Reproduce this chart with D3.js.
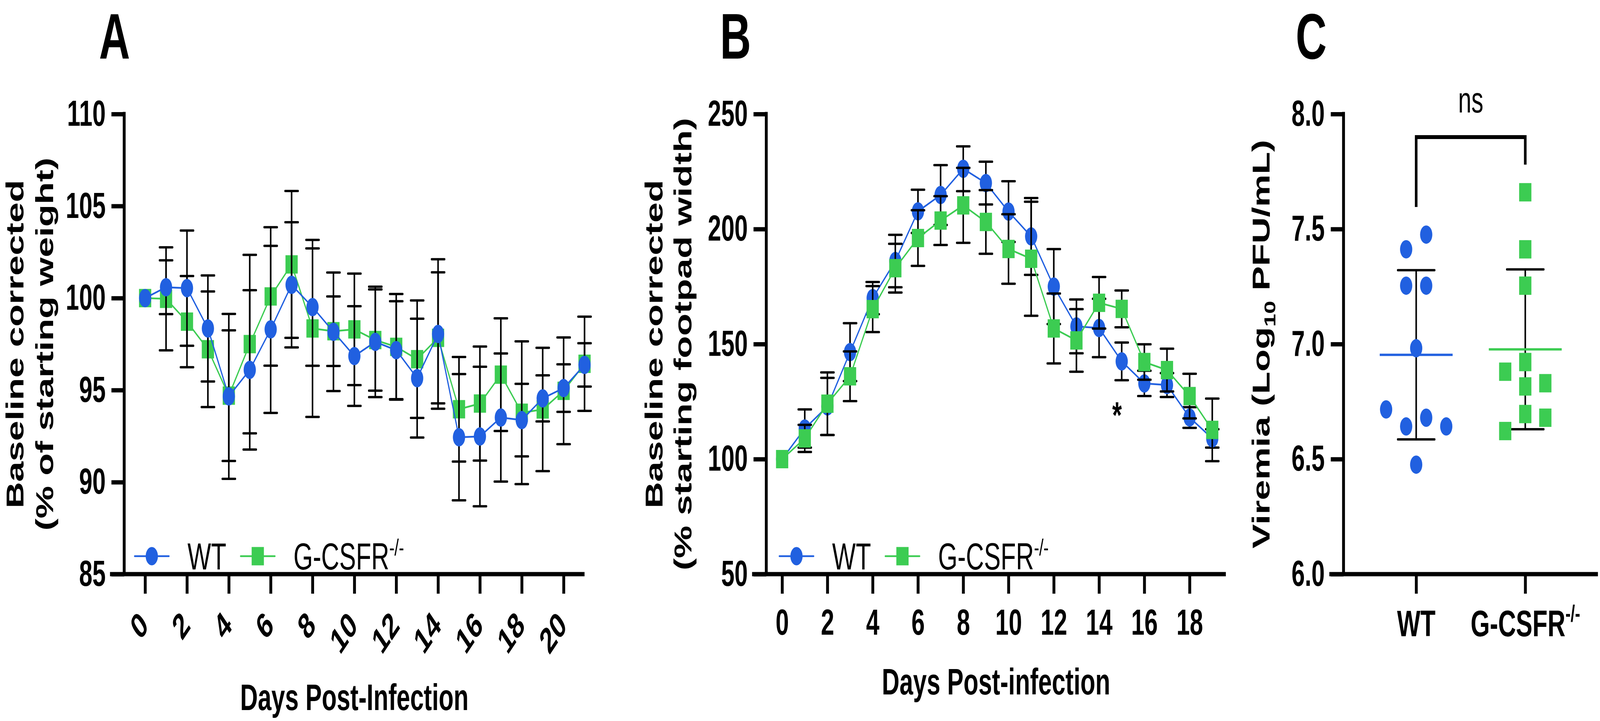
<!DOCTYPE html>
<html>
<head>
<meta charset="utf-8">
<script src="https://cdn.jsdelivr.net/npm/d3@7"></script>
<style>
  html, body { margin: 0; padding: 0; background: #fff; width: 100%; height: 100%; overflow: hidden; }
  svg { display: block; width: 100vw; height: 100vh; }
  text { font-family: "Liberation Sans", Arial, Helvetica, sans-serif; }
</style>
</head>
<body>
<div id="chart"></div>
<script>
// ---- data --------------------------------------------------------------

// Panel A: baseline corrected weight, days 0..21
const weightDays = d3.range(0, 22);
const weightWT   = [100, 100.59, 100.54, 98.35, 94.66, 96.1, 98.3, 100.72, 99.51, 98.17, 96.85,
                    97.62, 97.17, 95.65, 98.05, 92.44, 92.48, 93.51, 93.37, 94.55, 95.11, 96.37];
const weightWTsd = [0, 1.46, 3.13, 2.88, 4.48, 4.33, 4.54, 3.4, 3.19, 3.22, 2.71,
                    3.0, 2.66, 3.23, 4.06, 3.43, 3.79, 3.48, 1.97, 1.25, 1.29, 1.18];
const weightKO   = [100, 99.96, 98.72, 97.22, 94.7, 97.5, 100.09, 101.83, 98.35, 98.2, 98.3,
                    97.72, 97.35, 96.68, 97.84, 93.96, 94.27, 95.84, 93.77, 93.95, 94.96, 96.43];
const weightKOsd = [0, 2.8, 2.48, 3.14, 3.55, 4.85, 3.76, 3.99, 4.81, 1.89, 3.03,
                    2.75, 2.87, 3.19, 3.56, 2.84, 3.1, 3.06, 3.88, 3.35, 2.9, 2.56];

// Panel B: baseline corrected footpad width, days 0..19
const footDays   = d3.range(0, 20);
const footWT     = [100, 113.3, 122.9, 146.5, 170.0, 186.1, 207.7, 214.8, 226.2, 220.0,
                    207.6, 196.8, 175.0, 157.7, 157.0, 142.5, 132.9, 132.2, 118.1, 109.0];
const footWTsd   = [0, 8.3, 12.4, 12.6, 7.0, 11.4, 9.4, 13.0, 9.75, 9.3,
                    13.2, 16.7, 16.3, 11.7, 12.7, 8.2, 5.5, 5.2, 4.5, 4.0];
const footKO     = [100, 109.0, 124.1, 136.0, 165.2, 183.0, 196.1, 203.7, 210.3, 203.1,
                    191.35, 187.1, 156.8, 151.6, 167.95, 165.3, 142.2, 138.7, 127.4, 112.7];
const footKOsd   = [0, 5.9, 13.6, 10.8, 10.0, 10.6, 12.1, 10.6, 16.3, 13.85,
                    15.1, 24.8, 15.2, 13.6, 11.2, 8.0, 7.7, 9.3, 9.7, 13.6];
const footStars  = [{ day: 15, label: "*" }];

// Panel C: viremia, individual animals (Log10 PFU/mL)
const viremiaGroups = ["WT", "G-CSFR"];
const viremiaWT = [7.412, 7.476, 7.254, 7.254, 6.982, 6.716, 6.642, 6.68, 6.642, 6.476];
const viremiaKO = [7.66, 7.412, 7.254, 6.88, 6.922, 6.83, 6.816, 6.622, 6.696, 6.68];
const viremiaTest = "ns";

// ---- look --------------------------------------------------------------

const width = 6145, height = 1846;
const TOP = 292, BOTTOM = 1470;
const AXIS_W = 11, TICK = 49;
const BLUE = "#2160e0", GREEN = "#3ccc52";
const KO_LABEL = "G-CSFR", KO_SUP = "-/-";

// the window is narrower than the figure, so the drawing is fitted to it
const svg = d3.select("#chart").append("svg")
    .attr("viewBox", [0, 0, width, height])
    .attr("preserveAspectRatio", "none");

svg.append("rect").attr("width", width).attr("height", height).attr("fill", "#fff");

function marker(sel, shape, color, r) {
    if (shape === "circle") {
        sel.append("circle").attr("r", r).attr("fill", color);
    } else {
        sel.append("rect").attr("x", -r).attr("y", -r).attr("width", 2 * r).attr("height", 2 * r).attr("fill", color);
    }
}

function styleAxis(ax, fontSize) {
    ax.select(".domain").remove();
    ax.selectAll(".tick line").attr("stroke", "#000").attr("stroke-width", AXIS_W);
    ax.selectAll(".tick text")
        .attr("fill", "#000")
        .attr("font-size", fontSize)
        .attr("font-weight", "bold")
        .attr("font-family", "'Liberation Sans', Arial, sans-serif");
}

function panelLetter(label, x) {
    svg.append("text")
        .attr("x", x).attr("y", 150)
        .attr("text-anchor", "middle")
        .attr("font-size", 165).attr("font-weight", "bold")
        .text(label);
}

function yTitle(lines, xs) {
    lines.forEach((t, i) => {
        svg.append("text")
            .attr("transform", `translate(${xs[i]},${(TOP + BOTTOM) / 2}) rotate(-90)`)
            .attr("text-anchor", "middle")
            .attr("font-size", 94).attr("font-weight", "bold")
            .text(t);
    });
}

// ---- line panels (A, B) ------------------------------------------------

function linePanel(p) {
    const g = svg.append("g");
    const x = d3.scaleLinear(p.xDomain, p.xRange);
    const y = d3.scaleLinear(p.yDomain, [BOTTOM, TOP]);
    const x0 = p.xRange[0];

    // y axis
    const ya = g.append("g").attr("transform", `translate(${x0},0)`)
        .call(d3.axisLeft(y).tickValues(p.yTicks).tickSize(TICK).tickSizeOuter(0).tickPadding(22));
    styleAxis(ya, 92);
    g.append("line").attr("x1", x0).attr("x2", x0).attr("y1", TOP - AXIS_W / 2).attr("y2", BOTTOM)
        .attr("stroke", "#000").attr("stroke-width", AXIS_W);

    // x axis
    const xa = g.append("g").attr("transform", `translate(0,${BOTTOM})`)
        .call(d3.axisBottom(x).tickValues(p.xTicks).tickSize(50).tickSizeOuter(0).tickPadding(40));
    styleAxis(xa, 92);
    if (p.rotate) {
        xa.selectAll(".tick text")
            .attr("x", 0).attr("y", 0).attr("dy", "0.35em")
            .attr("transform", "translate(-6,113) rotate(-45)")
            .attr("text-anchor", "end");
    }
    g.append("line").attr("x1", x0 - TICK - AXIS_W / 2).attr("x2", p.xRange[1])
        .attr("y1", BOTTOM).attr("y2", BOTTOM)
        .attr("stroke", "#000").attr("stroke-width", AXIS_W);

    // series, in drawing order
    p.series.forEach(s => {
        const pts = p.days.map((d, i) => ({ day: d, mean: s.mean[i], sd: s.sd[i] }));
        const sg = g.append("g");

        const bars = sg.append("g").attr("stroke", "#000").attr("stroke-width", 6)
            .selectAll("g").data(pts.filter(d => d.sd > 0)).join("g")
            .attr("transform", d => `translate(${x(d.day)},0)`);
        bars.append("line")
            .attr("y1", d => y(d.mean + d.sd)).attr("y2", d => y(d.mean - d.sd));
        bars.selectAll(".cap").data(d => [d.mean + d.sd, d.mean - d.sd]).join("line")
            .attr("class", "cap")
            .attr("x1", -25).attr("x2", 25)
            .attr("y1", v => y(v)).attr("y2", v => y(v))
            .attr("stroke-linecap", "round");

        sg.append("path").datum(pts)
            .attr("fill", "none").attr("stroke", s.color).attr("stroke-width", 4.5)
            .attr("stroke-linejoin", "round")
            .attr("d", d3.line(d => x(d.day), d => y(d.mean)));

        sg.append("g").selectAll("g").data(pts).join("g")
            .attr("transform", d => `translate(${x(d.day)},${y(d.mean)})`)
            .each(function () { marker(d3.select(this), s.shape, s.color, 23.5); });
    });

    // significance marks
    (p.stars || []).forEach(st => {
        const low = d3.min(p.series, s => s.mean[st.day] - s.sd[st.day]);
        g.append("text")
            .attr("x", x(st.day) - 18).attr("y", y(low) + 122)
            .attr("text-anchor", "middle")
            .attr("font-size", 95).attr("font-weight", "bold")
            .text(st.label);
    });

    // legend
    const lg = g.append("g").attr("transform", `translate(${p.legendX},1424)`);
    const entry = lg.selectAll("g").data(p.legend).join("g")
        .attr("transform", (d, i) => `translate(${i * 407},0)`);
    entry.append("line").attr("x1", 0).attr("x2", 132)
        .attr("stroke", d => d.color).attr("stroke-width", 4.5).attr("stroke-linecap", "round");
    entry.append("g").attr("transform", "translate(66,0)")
        .each(function (d) { marker(d3.select(this), d.shape, d.color, 23.5); });
    const lt = entry.append("text").attr("x", 203).attr("y", 34)
        .attr("font-size", 96);
    lt.append("tspan").text(d => d.label);
    lt.filter(d => d.sup).append("tspan")
        .attr("dy", -36).attr("font-size", 60).text(d => d.sup);

    // titles
    panelLetter(p.letter, p.letterX);
    yTitle(p.yTitle, p.yTitleX);
    svg.append("text")
        .attr("x", (p.xRange[0] + p.xRange[1]) / 2).attr("y", p.xTitleY)
        .attr("text-anchor", "middle")
        .attr("font-size", 94).attr("font-weight", "bold")
        .text(p.xTitle);
}

const legendItems = [
    { label: "WT", color: BLUE, shape: "circle" },
    { label: KO_LABEL, sup: KO_SUP, color: GREEN, shape: "square" }
];

linePanel({
    days: weightDays,
    xDomain: [-1, 21], xRange: [477, 2245],
    yDomain: [85, 110],
    xTicks: d3.range(0, 21, 2), yTicks: d3.range(85, 111, 5),
    rotate: true,
    series: [
        { mean: weightKO, sd: weightKOsd, color: GREEN, shape: "square" },
        { mean: weightWT, sd: weightWTsd, color: BLUE, shape: "circle" }
    ],
    legend: legendItems, legendX: 517,
    letter: "A", letterX: 440,
    yTitle: ["Baseline corrected", "(% of starting weight)"], yTitleX: [90, 204],
    xTitle: "Days Post-Infection", xTitleY: 1818
});

linePanel({
    days: footDays,
    xDomain: [-0.7, 19.6], xRange: [2943, 4708],
    yDomain: [50, 250],
    xTicks: d3.range(0, 19, 2), yTicks: d3.range(50, 251, 50),
    rotate: false,
    series: [
        { mean: footWT, sd: footWTsd, color: BLUE, shape: "circle" },
        { mean: footKO, sd: footKOsd, color: GREEN, shape: "square" }
    ],
    stars: footStars,
    legend: legendItems, legendX: 2993,
    letter: "B", letterX: 2825,
    yTitle: ["Baseline corrected", "(% starting footpad width)"], yTitleX: [2545, 2655],
    xTitle: "Days Post-infection", xTitleY: 1778
});

// ---- scatter panel (C) -------------------------------------------------

(function () {
    const g = svg.append("g");
    const x0 = 5160;
    const x = d3.scalePoint(viremiaGroups, [x0, 6137]).padding(0.666);
    const y = d3.scaleLinear([6, 8], [BOTTOM, TOP]);

    const ya = g.append("g").attr("transform", `translate(${x0},0)`)
        .call(d3.axisLeft(y).tickValues(d3.range(6, 8.01, 0.5)).tickFormat(d3.format(".1f"))
            .tickSize(TICK).tickSizeOuter(0).tickPadding(23));
    styleAxis(ya, 92);
    g.append("line").attr("x1", x0).attr("x2", x0).attr("y1", TOP - AXIS_W / 2).attr("y2", BOTTOM)
        .attr("stroke", "#000").attr("stroke-width", AXIS_W);

    const xa = g.append("g").attr("transform", `translate(0,${BOTTOM})`)
        .call(d3.axisBottom(x).tickSize(50).tickSizeOuter(0).tickPadding(42));
    styleAxis(xa, 95);
    xa.selectAll(".tick text").filter(d => d === KO_LABEL)
        .append("tspan").attr("dy", -38).attr("font-size", 60).text(KO_SUP);
    g.append("line").attr("x1", x0 - TICK - AXIS_W / 2).attr("x2", 6137)
        .attr("y1", BOTTOM).attr("y2", BOTTOM)
        .attr("stroke", "#000").attr("stroke-width", AXIS_W);

    const groups = [
        { key: "WT", values: viremiaWT, color: BLUE, shape: "circle" },
        { key: "G-CSFR", values: viremiaKO, color: GREEN, shape: "square" }
    ];

    // spread points that share a row, like a column scatter
    function spread(values, step) {
        const order = d3.range(values.length).sort((a, b) => values[b] - values[a]);
        const rows = [];
        order.forEach(i => {
            const row = rows[rows.length - 1];
            if (row && values[row[0]] - values[i] < 0.1) row.push(i);
            else rows.push([i]);
        });
        const off = new Array(values.length);
        rows.forEach(row => {
            row.sort((a, b) => a - b).forEach((i, k) => { off[i] = (k - (row.length - 1) / 2) * step; });
        });
        return off;
    }

    groups.forEach(gr => {
        const cx = x(gr.key);
        const m = d3.mean(gr.values), sd = d3.deviation(gr.values);
        const eg = g.append("g").attr("stroke", "#000").attr("stroke-width", 6);
        eg.append("line").attr("x1", cx).attr("x2", cx).attr("y1", y(m + sd)).attr("y2", y(m - sd));
        eg.selectAll(".cap").data([m + sd, m - sd]).join("line")
            .attr("x1", cx - 71).attr("x2", cx + 71).attr("y1", v => y(v)).attr("y2", v => y(v))
            .attr("stroke-linecap", "round");
        g.append("line").attr("x1", cx - 140).attr("x2", cx + 140).attr("y1", y(m)).attr("y2", y(m))
            .attr("stroke", gr.color).attr("stroke-width", 6);

        const off = spread(gr.values, 77);
        g.append("g").selectAll("g").data(gr.values).join("g")
            .attr("transform", (v, i) => `translate(${cx + off[i]},${y(v)})`)
            .each(function () { marker(d3.select(this), gr.shape, gr.color, 23.5); });
    });

    // comparison bracket
    const top = d3.max(groups, gr => d3.max(gr.values)) + 0.24;
    const legs = groups.map(gr => ({ x: x(gr.key), y: y(d3.max(gr.values) + 0.12) }));
    g.append("path")
        .attr("fill", "none").attr("stroke", "#000").attr("stroke-width", 10)
        .attr("d", `M${legs[0].x},${legs[0].y}V${y(top)}H${legs[1].x}V${legs[1].y}`);
    g.append("text")
        .attr("x", (legs[0].x + legs[1].x) / 2).attr("y", y(top) - 63)
        .attr("text-anchor", "middle").attr("font-size", 92)
        .text(viremiaTest);

    panelLetter("C", 5036);
    const t = svg.append("text")
        .attr("transform", `translate(4876,${(TOP + BOTTOM) / 2}) rotate(-90)`)
        .attr("text-anchor", "middle")
        .attr("font-size", 94).attr("font-weight", "bold");
    t.append("tspan").text("Viremia (Log");
    t.append("tspan").attr("dy", 22).attr("font-size", 60).text("10");
    t.append("tspan").attr("dy", -22).text(" PFU/mL)");
})();
</script>
</body>
</html>
